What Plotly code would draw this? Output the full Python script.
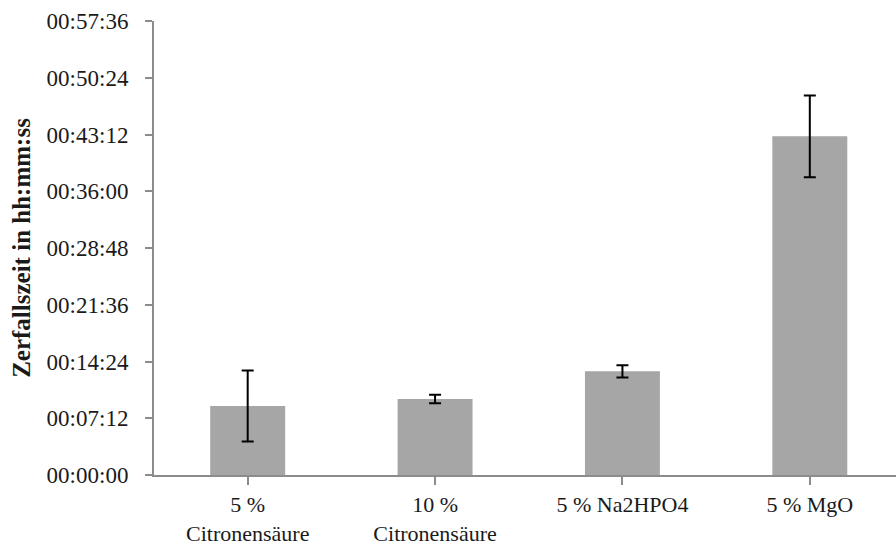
import plotly.graph_objects as go

categories = ["5 %<br>Citronensäure", "10 %<br>Citronensäure", "5 % Na2HPO4", "5 % MgO"]
# mean disintegration time in seconds
values_s = [525, 578, 789, 2578]
# standard deviation in seconds
errors_s = [270, 32, 47, 311]

tick_vals = [0, 432, 864, 1296, 1728, 2160, 2592, 3024, 3456]
tick_text = ["00:00:00", "00:07:12", "00:14:24", "00:21:36", "00:28:48",
             "00:36:00", "00:43:12", "00:50:24", "00:57:36"]

font_family = "Liberation Serif, Times New Roman, serif"
text_color = "#1a1a1a"

fig = go.Figure(
    go.Bar(
        x=list(range(len(categories))),
        y=values_s,
        width=0.4,
        marker=dict(color="#A6A6A6", line=dict(width=0)),
        error_y=dict(type="data", array=errors_s, visible=True,
                     color="#000000", thickness=2, width=6),
    )
)

fig.update_layout(
    width=896, height=547,
    margin=dict(l=154, r=0, t=21, b=72),
    paper_bgcolor="white", plot_bgcolor="white",
    font=dict(family=font_family, size=23, color=text_color),
    showlegend=False,
    xaxis=dict(
        automargin=False,
        tickmode="array",
        tickvals=list(range(len(categories))),
        ticktext=categories,
        tickfont=dict(size=22),
        range=[-0.5, 3.46],
        showline=True, linecolor="#8c8c8c", linewidth=2,
        ticks="outside", tickson="boundaries", ticklen=8, tickwidth=1.5,
        tickcolor="#8c8c8c",
        showgrid=False, zeroline=False,
        ticklabelstandoff=1,
    ),
    yaxis=dict(
        automargin=False,
        range=[0, 3456],
        tickmode="array", tickvals=tick_vals, ticktext=tick_text,
        tickfont=dict(size=23),
        showline=True, linecolor="#8c8c8c", linewidth=2,
        ticks="outside", ticklen=7, tickwidth=1.5, tickcolor="#8c8c8c",
        showgrid=False, zeroline=False,
        ticklabelstandoff=12,
        title=dict(text="<b>Zerfallszeit in hh:mm:ss</b>",
                   font=dict(size=25, family=font_family, color=text_color),
                   standoff=9),
    ),
)

fig.write_html("out.html", config={"displayModeBar": False},
               post_script="document.body.style.margin='0';")
